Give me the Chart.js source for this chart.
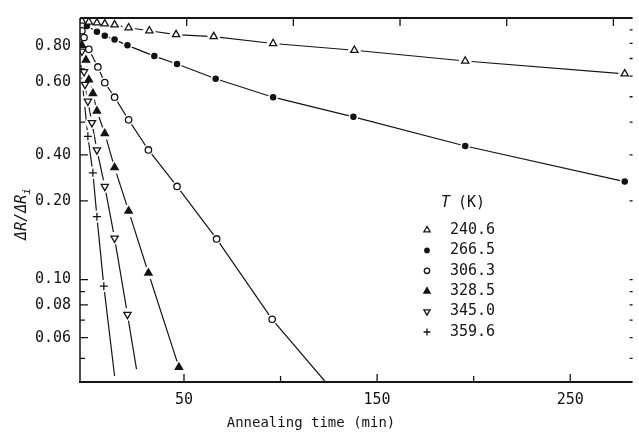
<!DOCTYPE html>
<html>
<head>
<meta charset="utf-8">
<script src="https://cdn.jsdelivr.net/npm/chart.js@4.4.1/dist/chart.umd.min.js"></script>
<style>
  html, body { margin: 0; background: #fff; }
</style>
</head>
<body>
<canvas id="chart" width="639" height="435"></canvas>
<script>
// temperatures (K) of the six annealing runs
const temperatures = ['240.6', '266.5', '306.3', '328.5', '345.0', '359.6'];

// annealing time (min) and ΔR/ΔRi
const time240 = [1.0, 4.6, 8.8, 12.9, 18.0, 25.3, 36.1, 50.0, 69.6, 100.5, 142.8, 200.5, 283.5];
const ratio240 = [0.974, 0.966, 0.958, 0.950, 0.942, 0.918, 0.894, 0.864, 0.849, 0.799, 0.753, 0.685, 0.612];

const time266 = [3.6, 8.8, 12.9, 18.0, 24.7, 38.7, 50.5, 70.6, 100.5, 142.3, 200.5, 283.5];
const ratio266 = [0.933, 0.886, 0.856, 0.827, 0.786, 0.715, 0.667, 0.586, 0.498, 0.419, 0.324, 0.237];

const time306 = [1.0, 2.1, 4.6, 9.3, 12.9, 18.0, 25.3, 35.6, 50.5, 71.1, 100.0];
const ratio306 = [0.894, 0.842, 0.759, 0.650, 0.566, 0.498, 0.408, 0.313, 0.227, 0.143, 0.0705];

const time328 = [0.3, 1.0, 3.1, 4.6, 6.7, 8.8, 12.9, 18.0, 25.3, 35.6, 51.5];
const ratio328 = [0.98, 0.786, 0.691, 0.581, 0.515, 0.441, 0.362, 0.268, 0.183, 0.106, 0.0462];

const time345 = [1.0, 2.1, 2.6, 4.1, 6.2, 8.8, 12.9, 18.0, 24.7];
const ratio345 = [0.746, 0.623, 0.557, 0.481, 0.398, 0.313, 0.227, 0.144, 0.0736];

const time359 = [0.5, 4.1, 6.7, 8.8, 12.4];
const ratio359 = [0.639, 0.353, 0.256, 0.174, 0.0944];

// where the drawn fit lines run on past the last point (null = stops at the point)
const tailTime = [null, null, 127.8, null, 29.4, 18.0];
const tailRatio = [null, null, 0.0406, null, 0.0455, 0.0428];

// axis ticks (the printed bottom and top scales of the scan do not line up exactly with each other)
const xTickValues = [50, 150, 250];
const xMinorTicks = [50, 100, 150, 200, 250];
const topTicks = [50, 100, 150, 200, 250];
const yTickValues = [0.06, 0.08, 0.1, 0.2, 0.3, 0.57, 0.78];
const yTickLabels = ['0.06', '0.08', '0.10', '0.20', '0.40', '0.60', '0.80'];
const yLeftMinor = [0.05, 0.06, 0.07, 0.08, 0.09, 0.1, 0.2, 0.3, 0.4];
const yRightMinor = [0.05, 0.06, 0.07, 0.08, 0.09, 0.1, 0.2, 0.3, 0.4, 0.5, 0.6, 0.7, 0.8, 0.9];

const ink = '#141414';
const mono = 'DejaVu Sans Mono';

const times = [time240, time266, time306, time328, time345, time359];
const ratios = [ratio240, ratio266, ratio306, ratio328, ratio345, ratio359];
const markers = [
    { pointStyle: 'triangle', radius: 4.2, rotation: 0, filled: false },
    { pointStyle: 'circle', radius: 2.6, rotation: 0, filled: true },
    { pointStyle: 'circle', radius: 3.2, rotation: 0, filled: false },
    { pointStyle: 'triangle', radius: 4.2, rotation: 0, filled: true },
    { pointStyle: 'triangle', radius: 4.2, rotation: 180, filled: false },
    { pointStyle: 'cross', radius: 4, rotation: 0, filled: false },
];

const datasets = [];
temperatures.forEach((temp, k) => {
    const pts = times[k].map((t, i) => ({ x: t, y: ratios[k][i] }));
    const linePts = pts.slice();
    if (tailTime[k] !== null) linePts.push({ x: tailTime[k], y: tailRatio[k] });

    datasets.push({
        label: temp + ' line',
        data: linePts,
        xAxisID: 'x', yAxisID: 'y',
        showLine: true,
        borderColor: ink,
        borderWidth: 1.2,
        pointRadius: 0,
        order: 3,
    });
    datasets.push({
        label: temp + ' gap',
        data: pts,
        xAxisID: 'x', yAxisID: 'y',
        showLine: false,
        pointStyle: 'circle',
        pointRadius: markers[k].radius + 2.2,
        pointBackgroundColor: '#fff',
        pointBorderWidth: 0,
        order: 2,
    });
    datasets.push({
        label: temp,
        data: pts,
        xAxisID: 'x', yAxisID: 'y',
        showLine: false,
        pointStyle: markers[k].pointStyle,
        pointRadius: markers[k].radius,
        pointRotation: markers[k].rotation,
        pointBackgroundColor: markers[k].filled ? ink : '#fff',
        pointBorderColor: ink,
        pointBorderWidth: 1.3,
        order: 1,
    });
});

// frame, inward tick marks and the axis titles
const framePlugin = {
    id: 'frame',
    afterDraw(chart) {
        const { ctx, chartArea: a, scales } = chart;
        const xb = scales.xb, xt = scales.x2, ys = scales.y;
        ctx.save();
        ctx.strokeStyle = ink;

        ctx.lineWidth = 2;
        ctx.beginPath();
        ctx.moveTo(a.left, a.top); ctx.lineTo(a.right, a.top);
        ctx.moveTo(a.left - 1, a.bottom); ctx.lineTo(a.right, a.bottom);
        ctx.stroke();
        ctx.lineWidth = 1.5;
        ctx.beginPath();
        ctx.moveTo(a.left, a.top); ctx.lineTo(a.left, a.bottom);
        ctx.stroke();

        ctx.lineWidth = 1.3;
        ctx.beginPath();
        yLeftMinor.forEach(v => {
            const y = ys.getPixelForValue(v);
            const len = yTickValues.includes(v) ? 8 : 5;
            ctx.moveTo(a.left, y); ctx.lineTo(a.left + len, y);
        });
        yRightMinor.forEach(v => {
            const y = ys.getPixelForValue(v);
            ctx.moveTo(a.right - 3, y); ctx.lineTo(a.right, y);
        });
        xMinorTicks.forEach(v => {
            const x = xb.getPixelForValue(v);
            const len = xTickValues.includes(v) ? 8 : 6;
            ctx.moveTo(x, a.bottom); ctx.lineTo(x, a.bottom - len);
        });
        topTicks.forEach(v => {
            const x = xt.getPixelForValue(v);
            ctx.moveTo(x, a.top); ctx.lineTo(x, a.top + 8);
        });
        ctx.stroke();

        ctx.fillStyle = ink;
        ctx.textBaseline = 'middle';
        ctx.textAlign = 'center';
        ctx.font = '14px ' + mono;
        ctx.fillText('Annealing time (min)', 311, 423);

        // y axis title with subscript
        ctx.textAlign = 'left';
        ctx.translate(22, 214);
        ctx.rotate(-Math.PI / 2);
        ctx.font = 'italic 15px ' + mono;
        const main = 'ΔR/ΔR';
        const w = ctx.measureText(main).width;
        ctx.font = 'italic 11px ' + mono;
        const ws = ctx.measureText('i').width;
        const x0 = -(w + ws) / 2;
        ctx.font = 'italic 15px ' + mono;
        ctx.fillText(main, x0, 0);
        ctx.font = 'italic 11px ' + mono;
        ctx.fillText('i', x0 + w, 5);
        ctx.restore();
    }
};

// key block inside the plot
const keyPlugin = {
    id: 'key',
    afterDraw(chart) {
        const { ctx } = chart;
        const markX = 427, textX = 450, headY = 203, rowY = 230, step = 20.4;
        ctx.save();
        ctx.fillStyle = ink;
        ctx.textBaseline = 'middle';
        ctx.font = 'italic 15px ' + mono;
        ctx.fillText('T', 441, headY);
        ctx.font = '15px ' + mono;
        ctx.fillText('(K)', 458, headY);
        temperatures.forEach((temp, k) => {
            const y = rowY + k * step;
            const m = markers[k];
            ctx.fillStyle = m.filled ? ink : '#fff';
            ctx.strokeStyle = ink;
            ctx.lineWidth = 1.3;
            Chart.helpers.drawPoint(ctx, {
                pointStyle: m.pointStyle,
                radius: m.radius * 0.85,
                rotation: m.rotation,
                borderWidth: 1.3,
            }, markX, y);
            ctx.fillStyle = ink;
            ctx.font = '15px ' + mono;
            ctx.fillText(temp, textX, y);
        });
        ctx.restore();
    }
};

new Chart(document.getElementById('chart'), {
    type: 'scatter',
    data: { datasets: datasets },
    options: {
        responsive: false,
        animation: false,
        events: [],
        layout: { padding: { top: 10, right: 1, left: 0, bottom: 0 } },
        plugins: {
            legend: { display: false },
            tooltip: { enabled: false },
        },
        scales: {
            // data axis
            x: {
                type: 'linear',
                position: 'bottom',
                min: 0,
                max: 287.6,
                display: false,
            },
            // printed bottom scale
            xb: {
                type: 'linear',
                position: 'bottom',
                min: -3.85,
                max: 282.3,
                grid: { display: false, drawTicks: false },
                border: { display: false },
                afterBuildTicks: s => { s.ticks = xTickValues.map(v => ({ value: v })); },
                afterFit: s => { s.height = 53; },
                ticks: {
                    color: ink,
                    font: { family: mono, size: 15 },
                    padding: 9,
                    maxRotation: 0,
                    autoSkip: false,
                },
            },
            // printed top scale
            x2: {
                type: 'linear',
                position: 'top',
                min: 0,
                max: 259,
                display: false,
            },
            y: {
                type: 'logarithmic',
                min: 0.0406,
                max: 1,
                grid: { display: false, drawTicks: false },
                border: { display: false },
                afterBuildTicks: s => { s.ticks = yTickValues.map(v => ({ value: v })); },
                afterFit: s => { s.width = 80; },
                ticks: {
                    color: ink,
                    font: { family: mono, size: 15 },
                    padding: 9,
                    autoSkip: false,
                    callback: (value, index) => yTickLabels[index],
                },
            },
        },
    },
    plugins: [framePlugin, keyPlugin],
});
</script>
</body>
</html>
